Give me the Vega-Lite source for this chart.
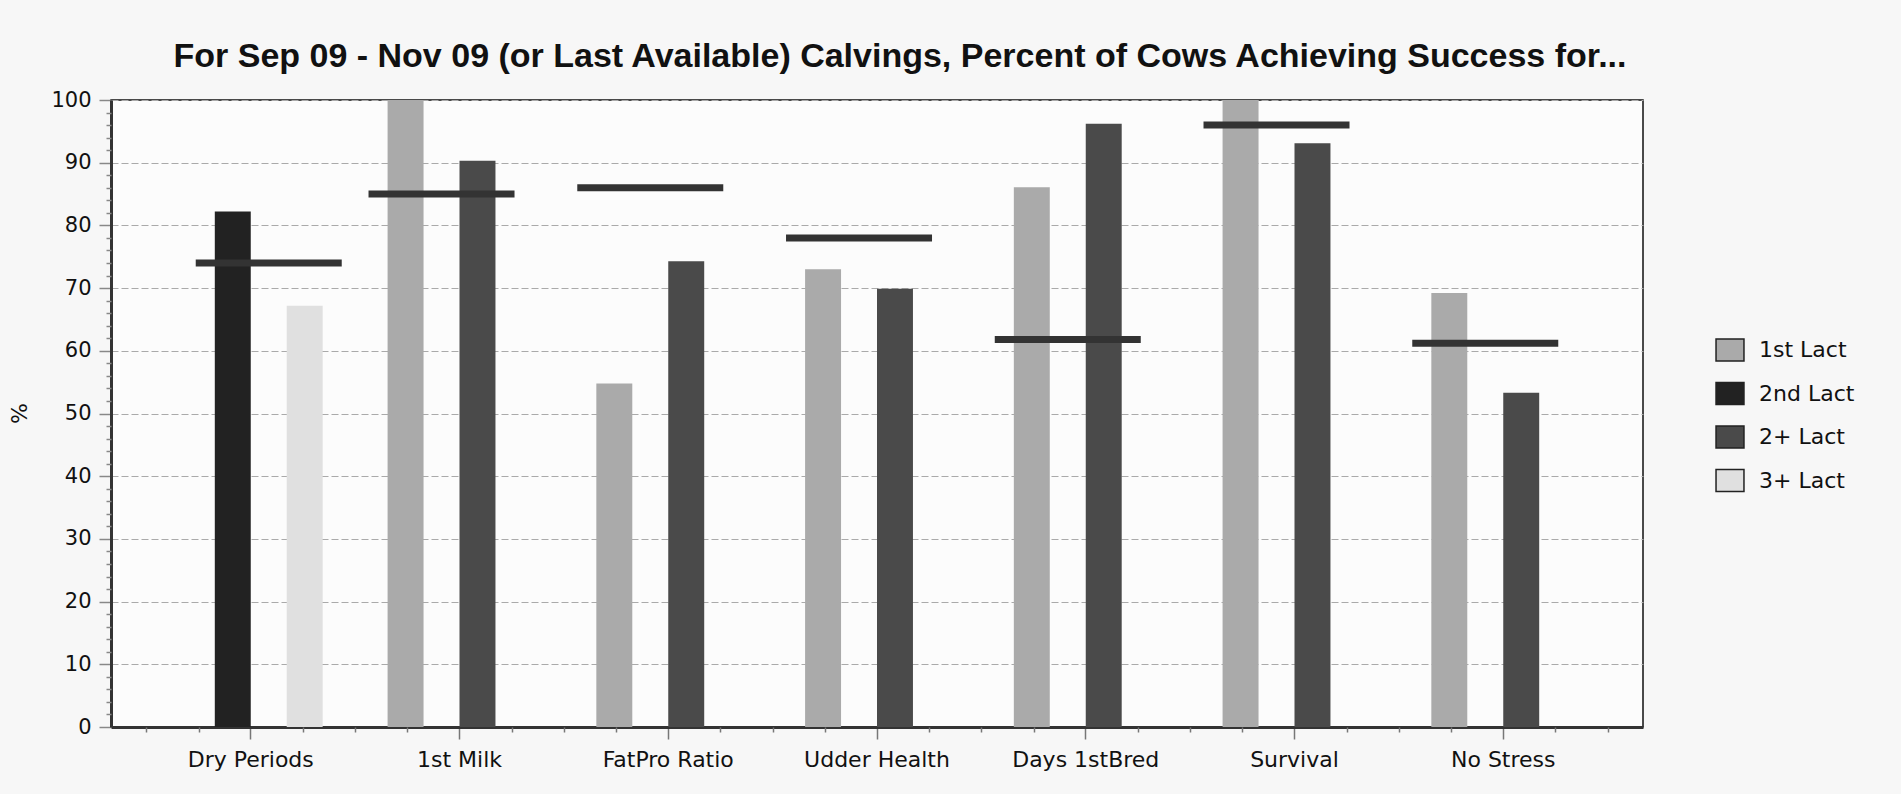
{
  "$schema": "https://vega.github.io/schema/vega-lite/v6.json",
  "width": 1532,
  "height": 627,
  "autosize": {"type": "none"},
  "padding": {"left": 111, "top": 100, "right": 258, "bottom": 67},
  "background": "#f7f7f7",
  "title": {
    "text": "For Sep 09 - Nov 09 (or Last Available) Calvings, Percent of Cows Achieving Success for...",
    "font": "Liberation Sans",
    "fontSize": 34,
    "fontWeight": "bold",
    "color": "#111111",
    "baseline": "alphabetic",
    "offset": 32,
    "dx": 23,
    "dy": 44,
    "anchor": "middle",
    "frame": "group"
  },
  "config": {
    "view": {"fill": "#fcfcfc", "stroke": "#111111", "strokeWidth": 1.5}
  },
  "datasets": {
    "bars": [
      {"metric": "Dry Periods", "series": "2nd Lact", "value": 82.2},
      {"metric": "Dry Periods", "series": "3+ Lact", "value": 67.2},
      {"metric": "1st Milk", "series": "1st Lact", "value": 100},
      {"metric": "1st Milk", "series": "2+ Lact", "value": 90.3},
      {"metric": "FatPro Ratio", "series": "1st Lact", "value": 54.8},
      {"metric": "FatPro Ratio", "series": "2+ Lact", "value": 74.3},
      {"metric": "Udder Health", "series": "1st Lact", "value": 73.0},
      {"metric": "Udder Health", "series": "2+ Lact", "value": 69.9},
      {"metric": "Days 1stBred", "series": "1st Lact", "value": 86.1},
      {"metric": "Days 1stBred", "series": "2+ Lact", "value": 96.2},
      {"metric": "Survival", "series": "1st Lact", "value": 100},
      {"metric": "Survival", "series": "2+ Lact", "value": 93.1},
      {"metric": "No Stress", "series": "1st Lact", "value": 69.2},
      {"metric": "No Stress", "series": "2+ Lact", "value": 53.3}
    ],
    "targets": [
      {"metric": "Dry Periods", "align": "2+ Lact", "target": 74.0},
      {"metric": "1st Milk", "align": "2nd Lact", "target": 85.0},
      {"metric": "FatPro Ratio", "align": "2nd Lact", "target": 86.0},
      {"metric": "Udder Health", "align": "2nd Lact", "target": 78.0},
      {"metric": "Days 1stBred", "align": "2nd Lact", "target": 61.8},
      {"metric": "Survival", "align": "2nd Lact", "target": 96.0},
      {"metric": "No Stress", "align": "2nd Lact", "target": 61.2}
    ]
  },
  "layer": [
    {
      "layer": [
        {
          "data": {"name": "bars"},
          "mark": {"type": "bar"},
          "encoding": {
            "x": {
              "field": "metric",
              "type": "nominal",
              "scale": {
                "domain": ["Dry Periods", "1st Milk", "FatPro Ratio", "Udder Health", "Days 1stBred", "Survival", "No Stress"],
                "paddingInner": 0.311,
                "paddingOuter": 0.325
              },
              "axis": {
                "title": null,
                "labelAngle": 0,
                "labelFont": "DejaVu Sans",
                "labelFontSize": 22,
                "labelColor": "#111111",
                "labelPadding": 10,
                "tickSize": 12,
                "tickColor": "#777777",
                "tickWidth": 1.5,
                "domainColor": "#333333",
                "domainWidth": 3,
                "grid": false
              }
            },
            "xOffset": {
              "field": "series",
              "type": "nominal",
              "scale": {"domain": ["1st Lact", "2nd Lact", "2+ Lact", "3+ Lact"], "paddingInner": 0, "paddingOuter": 0}
            },
            "y": {
              "field": "value",
              "type": "quantitative",
              "scale": {"domain": [0, 100], "nice": false},
              "axis": {
                "values": [0, 10, 20, 30, 40, 50, 60, 70, 80, 90, 100],
                "title": "%",
                "titleFont": "DejaVu Sans",
                "titleFontSize": 22,
                "titleFontWeight": "normal",
                "titleColor": "#111111",
                "titleX": -92,
                "titleY": 313,
                "titleAngle": -90,
                "titleAlign": "center",
                "titleBaseline": "middle",
                "grid": true,
                "gridDash": [7, 3],
                "gridColor": "#aaaaaa",
                "gridWidth": 1.2,
                "tickSize": 12,
                "tickColor": "#888888",
                "tickWidth": 1.5,
                "labelPadding": 8,
                "labelFont": "DejaVu Sans",
                "labelFontSize": 21,
                "labelColor": "#111111",
                "domainColor": "#333333",
                "domainWidth": 3
              }
            },
            "color": {
              "field": "series",
              "type": "nominal",
              "scale": {
                "domain": ["1st Lact", "2nd Lact", "2+ Lact", "3+ Lact"],
                "range": ["#aaaaaa", "#222222", "#4a4a4a", "#e0e0e0"]
              },
              "legend": {
                "orient": "none",
                "legendX": 1607,
                "legendY": 238,
                "title": null,
                "padding": 0,
                "symbolType": "M-1.27,-1H1.27V1H-1.27Z",
                "symbolSize": 484,
                "symbolStrokeColor": "#222222",
                "symbolStrokeWidth": 1.5,
                "symbolOpacity": 1,
                "labelFont": "DejaVu Sans",
                "labelFontSize": 22,
                "labelColor": "#111111",
                "labelOffset": 17,
                "rowPadding": 15.5
              }
            }
          }
        },
        {
          "data": {"name": "targets"},
          "mark": {"type": "tick", "thickness": 7, "size": 146, "color": "#333333", "opacity": 1},
          "encoding": {
            "x": {"field": "metric", "type": "nominal"},
            "xOffset": {"field": "align", "type": "nominal"},
            "y": {"field": "target", "type": "quantitative"}
          }
        }
      ]
    },
    {
      "data": {"values": [{}]},
      "mark": {"type": "point", "opacity": 0},
      "encoding": {
        "x": {
          "datum": 0,
          "type": "quantitative",
          "scale": {"domain": [-0.6695, 6.6695], "nice": false, "zero": false},
          "axis": {
            "orient": "bottom",
            "values": [-0.5, -0.25, 0.25, 0.5, 0.75, 1.25, 1.5, 1.75, 2.25, 2.5, 2.75, 3.25, 3.5, 3.75, 4.25, 4.5, 4.75, 5.25, 5.5, 5.75, 6.25, 6.5],
            "labels": false,
            "domain": false,
            "grid": false,
            "tickSize": 5,
            "tickColor": "#777777",
            "tickWidth": 1.5,
            "title": null
          }
        },
        "y": {
          "datum": 0,
          "type": "quantitative",
          "scale": {"domain": [0, 100], "nice": false},
          "axis": {
            "orient": "left",
            "values": [2, 4, 6, 8, 12, 14, 16, 18, 22, 24, 26, 28, 32, 34, 36, 38, 42, 44, 46, 48, 52, 54, 56, 58, 62, 64, 66, 68, 72, 74, 76, 78, 82, 84, 86, 88, 92, 94, 96, 98],
            "labels": false,
            "domain": false,
            "grid": false,
            "tickSize": 5,
            "tickColor": "#888888",
            "tickWidth": 1.5,
            "title": null
          }
        }
      }
    }
  ],
  "resolve": {"scale": {"x": "independent", "y": "independent"}}
}
